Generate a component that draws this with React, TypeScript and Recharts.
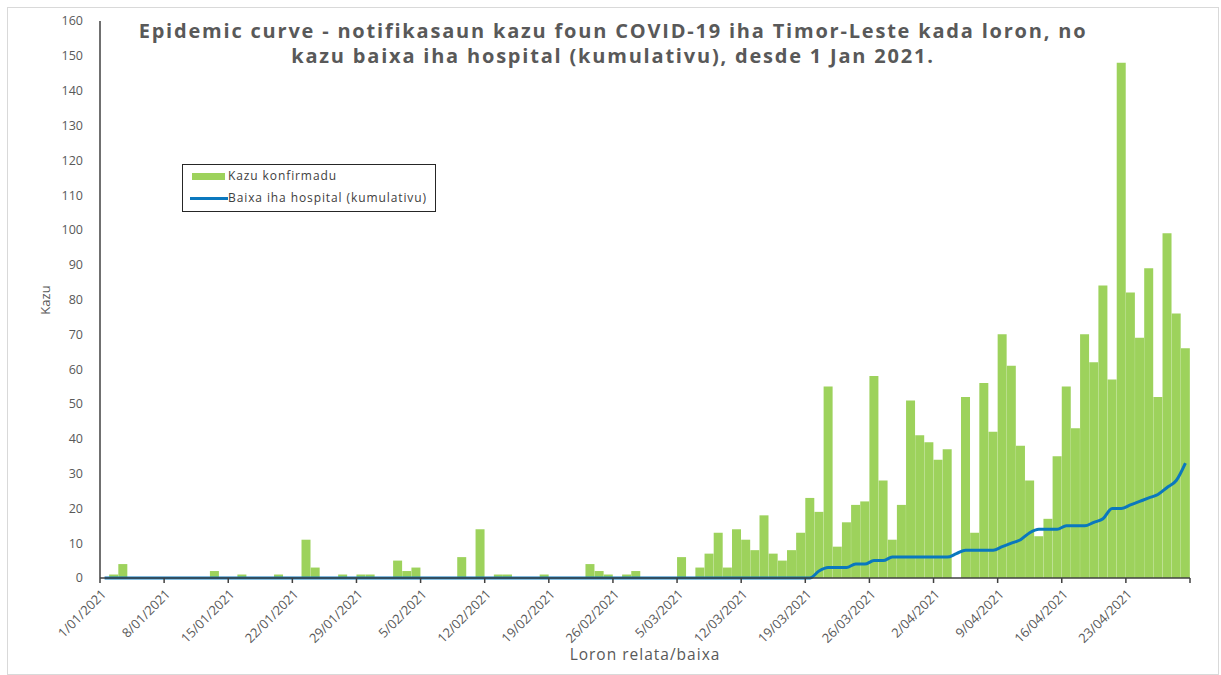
import React from 'react';
import { ComposedChart, Bar, Line, XAxis, YAxis } from 'recharts';

// New confirmed cases per day, 1 Jan 2021 .. 29 Apr 2021 (119 days)
const kazuKonfirmadu = [
  0, 1, 4, 0, 0, 0, 0, 0, 0, 0, 0, 0, 2, 0, 0, 1, 0, 0, 0, 1, 0,
  0, 11, 3, 0, 0, 1, 0, 1, 1, 0, 0, 5, 2, 3, 0, 0, 0, 0, 6, 0, 14,
  0, 1, 1, 0, 0, 0, 1, 0, 0, 0, 0, 4, 2, 1, 0, 1, 2, 0, 0, 0, 0,
  6, 0, 3, 7, 13, 3, 14, 11, 8, 18, 7, 5, 8, 13, 23, 19, 55, 9, 16,
  21, 22, 58, 28, 11, 21, 51, 41, 39, 34, 37, 0, 52, 13, 56, 42, 70,
  61, 38, 28, 12, 17, 35, 55, 43, 70, 62, 84, 57, 148, 82, 69, 89, 52,
  99, 76, 66,
];

// Hospital admissions, cumulative
const baixaKumulativu = [
  0, 0, 0, 0, 0, 0, 0, 0, 0, 0, 0, 0, 0, 0, 0, 0, 0, 0, 0, 0, 0,
  0, 0, 0, 0, 0, 0, 0, 0, 0, 0, 0, 0, 0, 0, 0, 0, 0, 0, 0, 0, 0,
  0, 0, 0, 0, 0, 0, 0, 0, 0, 0, 0, 0, 0, 0, 0, 0, 0, 0, 0, 0, 0,
  0, 0, 0, 0, 0, 0, 0, 0, 0, 0, 0, 0, 0, 0, 0, 2, 3, 3, 3,
  4, 4, 5, 5, 6, 6, 6, 6, 6, 6, 6, 7, 8, 8, 8, 8, 9,
  10, 11, 13, 14, 14, 14, 15, 15, 15, 16, 17, 20, 20, 21, 22, 23, 24,
  26, 28, 33,
];

const xTicks = [0, 7, 14, 21, 28, 35, 42, 49, 56, 63, 70, 77, 84, 91, 98, 105, 112, 119];
const xTickLabels = [
  '1/01/2021', '8/01/2021', '15/01/2021', '22/01/2021', '29/01/2021',
  '5/02/2021', '12/02/2021', '19/02/2021', '26/02/2021', '5/03/2021',
  '12/03/2021', '19/03/2021', '26/03/2021', '2/04/2021', '9/04/2021',
  '16/04/2021', '23/04/2021', '',
];
const yTicks = [0, 10, 20, 30, 40, 50, 60, 70, 80, 90, 100, 110, 120, 130, 140, 150, 160];

const data = kazuKonfirmadu.map((kazu, i) => ({
  day: i + 0.5,
  kazu,
  baixa: baixaKumulativu[i],
}));

const GREEN = '#9dd25c';
const BLUE = '#0a78be';
const GREY = '#595959';
const FONT = '"Open Sans", sans-serif';

const DateTick = (props: any) => {
  const { x, y, payload } = props;
  const label = xTickLabels[xTicks.indexOf(payload.value)] || '';
  const bx = x + 7;
  const by = y + 10;
  return (
    <text
      x={bx}
      y={by}
      textAnchor="end"
      transform={`rotate(-45, ${bx}, ${by})`}
      fontSize={13}
      fill={GREY}
      fontFamily={FONT}
    >
      {label}
    </text>
  );
};

const App: React.FC = () => {
  return (
    <div style={{ position: 'absolute', left: 0, top: 0, width: 1221, height: 675, background: '#fff', fontFamily: FONT }}>
      <div style={{ position: 'absolute', left: 7, top: 7, width: 1210, height: 666, border: '1px solid #d9d9d9' }} />

      <ComposedChart
        width={1221}
        height={675}
        data={data}
        margin={{ top: 21, right: 31, bottom: 0, left: 0 }}
        barCategoryGap={0}
        barGap={0}
      >
        <XAxis
          type="number"
          dataKey="day"
          domain={[0, 119]}
          ticks={xTicks}
          interval={0}
          height={97}
          axisLine={{ stroke: '#404040', strokeWidth: 1.5 }}
          tickLine={{ stroke: '#404040', strokeWidth: 1.5 }}
          tickSize={5}
          tick={<DateTick />}
        />
        <YAxis
          domain={[0, 160]}
          ticks={yTicks}
          interval={0}
          width={100}
          axisLine={{ stroke: '#404040', strokeWidth: 1.5 }}
          tickLine={false}
          tickSize={6}
          tickMargin={11}
          tick={{ fontSize: 12.5, fill: GREY, fontFamily: FONT }}
        />
        <Bar dataKey="kazu" fill={GREEN} isAnimationActive={false} />
        <Line
          type="monotone"
          dataKey="baixa"
          stroke={BLUE}
          strokeWidth={3}
          dot={false}
          activeDot={false}
          isAnimationActive={false}
        />
      </ComposedChart>

      {/* title */}
      <div
        style={{
          position: 'absolute', left: 0, top: 18, width: 1226, textAlign: 'center',
          fontSize: 20, lineHeight: '25px', fontWeight: 700, color: GREY, letterSpacing: 1.8,
        }}
      >
        Epidemic curve - notifikasaun kazu foun COVID-19 iha Timor-Leste kada loron, no
        <br />
        kazu baixa iha hospital (kumulativu), desde 1 Jan 2021.
      </div>

      {/* legend */}
      <div
        style={{
          position: 'absolute', left: 182, top: 164, width: 252, height: 46,
          border: '1px solid #262626', background: '#fff', fontSize: 12, color: '#404040', letterSpacing: 0.9,
        }}
      >
        <div style={{ position: 'absolute', left: 9, top: 8, width: 33, height: 7, background: GREEN }} />
        <div style={{ position: 'absolute', left: 45, top: 3, lineHeight: '16px' }}>Kazu konfirmadu</div>
        <div style={{ position: 'absolute', left: 7, top: 32, width: 38, height: 3, background: BLUE }} />
        <div style={{ position: 'absolute', left: 45, top: 25, lineHeight: '16px' }}>Baixa iha hospital (kumulativu)</div>
      </div>

      {/* axis titles */}
      <div
        style={{
          position: 'absolute', left: 15, top: 290, width: 60, height: 20, lineHeight: '20px',
          textAlign: 'center', transform: 'rotate(-90deg)', fontSize: 13, color: GREY,
        }}
      >
        Kazu
      </div>
      <div
        style={{
          position: 'absolute', left: 545, top: 644, width: 200, lineHeight: '20px',
          textAlign: 'center', fontSize: 15.5, color: GREY, letterSpacing: 1,
        }}
      >
        Loron relata/baixa
      </div>
    </div>
  );
};

export default App;
